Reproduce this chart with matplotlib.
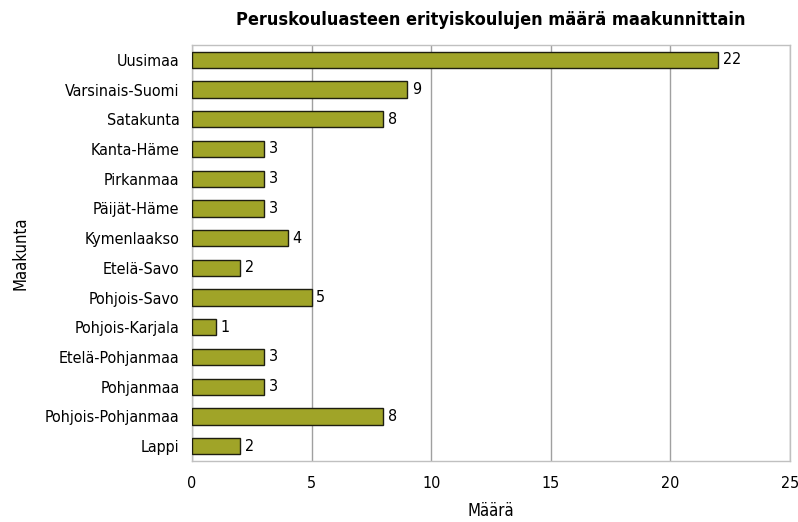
import matplotlib
matplotlib.use('Agg')
import matplotlib.pyplot as plt
from matplotlib import font_manager

regions = ['Uusimaa', 'Varsinais-Suomi', 'Satakunta', 'Kanta-Häme', 'Pirkanmaa',
           'Päijät-Häme', 'Kymenlaakso', 'Etelä-Savo', 'Pohjois-Savo',
           'Pohjois-Karjala', 'Etelä-Pohjanmaa', 'Pohjanmaa',
           'Pohjois-Pohjanmaa', 'Lappi']
counts = [22, 9, 8, 3, 3, 3, 4, 2, 5, 1, 3, 3, 8, 2]

names = {f.name for f in font_manager.fontManager.ttflist}
if 'Liberation Sans Narrow' in names:
    plt.rcParams['font.family'] = ['Liberation Sans Narrow', 'DejaVu Sans']
else:
    plt.rcParams['font.family'] = ['DejaVu Sans']
    plt.rcParams['font.stretch'] = 'condensed'

fig = plt.figure(figsize=(7.98, 5.22), dpi=100)
ax = fig.add_axes([0.2406, 0.1169, 0.7494, 0.7969])

y = range(len(regions))
bars = ax.barh(y, counts, height=0.55, color='#a0a428', edgecolor='#1e1e10', linewidth=1.0, zorder=3)
for b, v in zip(bars, counts):
    ax.text(b.get_width() + 0.2, b.get_y() + b.get_height() / 2, str(v),
            va='center', ha='left', fontsize=11.5)

ax.set_ylim(len(regions) - 0.5, -0.5)
ax.set_xlim(0, 25)
ax.set_yticks(list(y))
ax.set_yticklabels(regions, fontsize=11.5)
ax.set_xticks([0, 5, 10, 15, 20, 25])
ax.tick_params(axis='x', labelsize=11.5, length=0, pad=11)
ax.tick_params(axis='y', length=0, pad=9)
ax.grid(axis='x', color='#a0a0a0', linewidth=1.0, zorder=0)
for s in ax.spines.values():
    s.set_color('#c0c0c0')
    s.set_linewidth(1.0)

ax.set_xlabel('Määrä', fontsize=12, va='center')
ax.xaxis.set_label_coords(0.5, -0.12)
ax.set_ylabel('Maakunta', fontsize=12, va='center')
ax.yaxis.set_label_coords(-0.2876, 0.5)
fig.text(0.615, 0.962, 'Peruskouluasteen erityiskoulujen määrä maakunnittain',
         ha='center', va='center', fontsize=13, fontweight='bold')

plt.savefig('out.png', dpi=100)
